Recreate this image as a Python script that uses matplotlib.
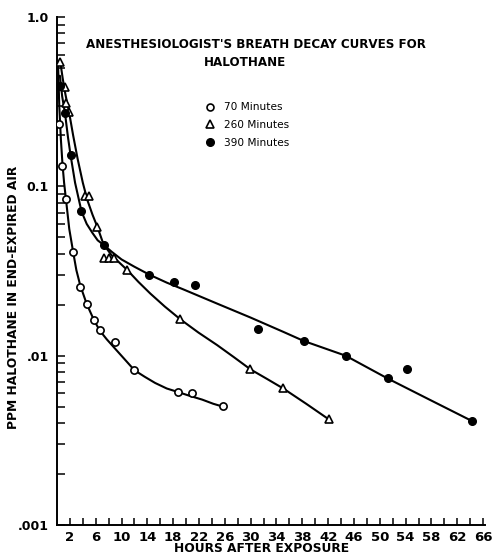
import matplotlib
matplotlib.use("Agg")
import matplotlib.pyplot as plt
from matplotlib.ticker import FixedLocator, NullFormatter, LogLocator
from matplotlib.lines import Line2D

# ---- data ----
hours_70 = [0.35, 0.82, 1.35, 2.48, 3.62, 4.61, 5.70, 6.62, 8.96, 12.0, 18.74, 20.9, 25.7]
ppm_70 = [0.232, 0.132, 0.0845, 0.0408, 0.0255, 0.0203, 0.0162, 0.0141, 0.0121, 0.0082, 0.0061, 0.0060, 0.00504]

hours_260 = [0.51, 1.24, 1.35, 1.91, 4.3, 5.0, 6.26, 7.35, 8.07, 8.9, 10.9, 19.1, 29.97, 35.05, 42.13]
ppm_260 = [0.545, 0.384, 0.312, 0.275, 0.0877, 0.0877, 0.0577, 0.0376, 0.0376, 0.0376, 0.032, 0.0164, 0.0083, 0.0064, 0.0042]

hours_390 = [0.51, 1.24, 2.12, 3.78, 7.25, 14.3, 18.1, 21.4, 31.2, 38.25, 44.7, 51.2, 54.2, 64.24]
ppm_390 = [0.391, 0.272, 0.153, 0.0712, 0.0448, 0.0301, 0.0273, 0.026, 0.01436, 0.0122, 0.0100, 0.00734, 0.00833, 0.00412]

# fitted curves as traced on the picture
curve70_x = [0.15, 0.35, 0.6, 0.85, 1.1, 1.4, 1.9, 2.5, 3.0, 3.6, 4.6, 5.7, 6.6, 7.7, 9.0, 10.5,
             12.0, 13.6, 15.2, 17.0, 18.74, 20.5, 22.5, 24.2, 25.7]
curve70_y = [0.55, 0.30, 0.19, 0.135, 0.105, 0.083, 0.056, 0.041, 0.032, 0.026, 0.0202, 0.0163,
             0.0141, 0.0125, 0.0110, 0.0095, 0.0082, 0.0075, 0.0069, 0.0064, 0.0061, 0.0058,
             0.0055, 0.0052, 0.0050]

curve260_x = [0.5, 0.9, 1.3, 1.9, 2.5, 3.2, 4.0, 4.7, 5.5, 6.3, 7.2, 8.5, 10.9, 12.6, 14.44,
              16.7, 19.1, 21.9, 24.8, 27.4, 29.97, 32.5, 35.05, 38.6, 42.13]
curve260_y = [0.545, 0.43, 0.35, 0.27, 0.20, 0.145, 0.105, 0.083, 0.068, 0.057, 0.0455, 0.039,
              0.032, 0.0273, 0.0233, 0.0195, 0.0164, 0.0137, 0.01155, 0.0098, 0.0083, 0.0073,
              0.0064, 0.0052, 0.0042]

curve390_x = [0.45, 0.8, 1.24, 1.7, 2.1, 2.8, 3.8, 4.6, 5.5, 6.3, 7.25, 8.5, 10.0, 12.0, 14.3,
              17.0, 19.6, 24.8, 29.97, 35.1, 38.25, 44.7, 51.2, 57.7, 64.24]
curve390_y = [0.45, 0.34, 0.27, 0.195, 0.153, 0.105, 0.071, 0.06, 0.053, 0.048, 0.045, 0.041,
              0.037, 0.0335, 0.0301, 0.0270, 0.0246, 0.0203, 0.0168, 0.0138, 0.0122, 0.0100,
              0.00734, 0.0055, 0.00412]

x_tick_values = list(range(2, 67, 4))
x_minor_values = list(range(4, 65, 4))
y_tick_values = [0.001, 0.01, 0.1, 1.0]
y_tick_labels = [".001", ".01", "0.1", "1.0"]
legend_labels = ["70 Minutes", "260 Minutes", "390 Minutes"]

# ---- figure ----
fig = plt.figure(figsize=(4.92, 5.56), dpi=100)
ax = fig.add_axes([57 / 492, 31 / 556, 428 / 492, 508 / 556])
ax.set_yscale("log")
ax.set_xlim(0, 66.3)
ax.set_ylim(0.001, 1.0)

lw = 1.5
for cx, cy in [(curve70_x, curve70_y), (curve260_x, curve260_y), (curve390_x, curve390_y)]:
    ax.plot(cx, cy, color="black", lw=lw, zorder=2, solid_joinstyle="round",
            solid_capstyle="round")

ax.plot(hours_70, ppm_70, linestyle="none", marker="o", ms=5.2, mfc="white",
        mec="black", mew=1.2, zorder=3)
ax.plot(hours_260, ppm_260, linestyle="none", marker="^", ms=6.2, mfc="white",
        mec="black", mew=1.2, zorder=3)
ax.plot(hours_390, ppm_390, linestyle="none", marker="o", ms=5.5, mfc="black",
        mec="black", mew=1.0, zorder=3)

for s in ["top", "right"]:
    ax.spines[s].set_visible(False)
for s in ["left", "bottom"]:
    ax.spines[s].set_linewidth(1.4)
    ax.spines[s].set_color("black")

ax.xaxis.set_major_locator(FixedLocator(x_tick_values))
ax.xaxis.set_minor_locator(FixedLocator(x_minor_values))
ax.set_xticklabels([str(v) for v in x_tick_values])
ax.tick_params(axis="x", which="both", direction="in", length=5, width=1.1, pad=4,
               labelsize=9.5)
ax.yaxis.set_major_locator(FixedLocator(y_tick_values))
ax.set_yticklabels(y_tick_labels)
ax.yaxis.set_minor_locator(LogLocator(base=10, subs=range(2, 10)))
ax.yaxis.set_minor_formatter(NullFormatter())
ax.tick_params(axis="y", which="both", direction="in", length=6, width=1.1, pad=6,
               labelsize=9)
for lab in ax.get_xticklabels() + ax.get_yticklabels():
    lab.set_fontweight("bold")

fig.text(256 / 492, 1 - 44 / 556, "ANESTHESIOLOGIST'S BREATH DECAY CURVES FOR",
         ha="center", va="center", fontsize=8.6, fontweight="bold")
fig.text(245 / 492, 1 - 62 / 556, "HALOTHANE",
         ha="center", va="center", fontsize=8.6, fontweight="bold")

# legend
handles = [
    Line2D([], [], linestyle="none", marker="o", ms=5, mfc="white", mec="black", mew=1.2),
    Line2D([], [], linestyle="none", marker="^", ms=6, mfc="white", mec="black", mew=1.2),
    Line2D([], [], linestyle="none", marker="o", ms=5.5, mfc="black", mec="black"),
]
leg = fig.legend(handles, legend_labels, loc="upper left",
                 bbox_to_anchor=(200 / 492, 1 - 98 / 556), frameon=False,
                 fontsize=7.6, handlelength=1.0, handletextpad=0.9,
                 labelspacing=0.75, borderaxespad=0)

fig.text(14 / 492, 1 - 297 / 556, "PPM HALOTHANE IN END-EXPIRED AIR",
         rotation=90, ha="center", va="center", fontsize=8.8, fontweight="bold")
fig.text(262 / 492, 1 - 549 / 556, "HOURS AFTER EXPOSURE",
         ha="center", va="center", fontsize=8.8, fontweight="bold")

fig.savefig("out.png", dpi=100)
